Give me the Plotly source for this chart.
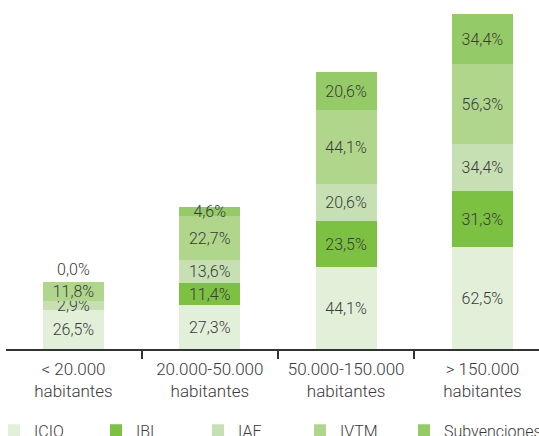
import plotly.graph_objects as go

categories = ["< 20.000<br>habitantes", "20.000-50.000<br>habitantes",
              "50.000-150.000<br>habitantes", "> 150.000<br>habitantes"]
series_names = ["ICIO", "IBI", "IAE", "IVTM", "Subvenciones"]

# segment heights (common arbitrary scale)
icio = [39, 44, 82, 102]
ibi = [0, 22, 46, 56]
iae = [9, 23, 37, 47]
ivtm = [19, 44, 74, 80]
subv = [0, 9, 38, 50]

# printed labels
icio_lbl = ["26,5%", "27,3%", "44,1%", "62,5%"]
ibi_lbl = ["", "11,4%", "23,5%", "31,3%"]
iae_lbl = ["2,9%", "13,6%", "20,6%", "34,4%"]
ivtm_lbl = ["11,8%", "22,7%", "44,1%", "56,3%"]
subv_lbl = ["0,0%", "4,6%", "20,6%", "34,4%"]

colors = ["#e2efd9", "#7dc142", "#c6e0b4", "#b0d68c", "#95cb66"]

FONT = "Roboto, Liberation Sans, sans-serif"
TXT = "#3a3a3a"

x = list(range(len(categories)))
values = [icio, ibi, iae, ivtm, subv]
labels = [icio_lbl, ibi_lbl, iae_lbl, ivtm_lbl, subv_lbl]

fig = go.Figure()
for name, vals, lbl, col in zip(series_names, values, labels, colors):
    if name == "Subvenciones":
        tpos = ["outside", "inside", "inside", "inside"]
        leg = "legend2"
    else:
        tpos = "inside"
        leg = "legend"
    tf = dict(family=FONT, size=16, color=TXT, weight=300)
    fig.add_trace(go.Bar(
        x=x, y=vals, name=name, text=lbl, textposition=tpos,
        textangle=0, constraintext="none", cliponaxis=False,
        insidetextanchor="middle", legend=leg,
        marker=dict(color=col, line=dict(width=0)),
        textfont=tf, outsidetextfont=tf, insidetextfont=tf,
        width=0.447, hoverinfo="skip",
    ))

legend_font = dict(family=FONT, size=16, color=TXT, weight=300)

fig.update_layout(
    barmode="stack",
    width=539, height=436,
    margin=dict(l=6, r=0, t=10, b=87, autoexpand=False),
    paper_bgcolor="white", plot_bgcolor="white",
    font=dict(family=FONT, size=17, color=TXT, weight=300),
    xaxis=dict(
        range=[-0.495, 3.415], tickvals=x, ticktext=categories,
        ticks="", showgrid=False, zeroline=False,
        showline=True, linecolor="#333333", linewidth=1.5,
        tickfont=dict(family=FONT, size=17, color=TXT, weight=300),
        ticklabelstandoff=4,
        minor=dict(tickvals=[0.5, 1.5, 2.5], ticks="outside", ticklen=8,
                   tickwidth=1.5, tickcolor="#333333", showgrid=False),
    ),
    yaxis=dict(range=[0, 339], visible=False, showgrid=False, zeroline=False),
    showlegend=True,
    legend=dict(orientation="h", x=-0.0225, xanchor="left", y=-0.19, yanchor="top",
                entrywidth=57, entrywidthmode="pixels",
                font=legend_font, bgcolor="rgba(0,0,0,0)", traceorder="normal"),
    legend2=dict(orientation="h", x=0.7467, xanchor="left", y=-0.19, yanchor="top",
                 font=legend_font, bgcolor="rgba(0,0,0,0)"),
)

fig.write_html("out.html", config={"displayModeBar": False},
               post_script="document.body.style.margin='0';document.body.style.padding='0';")
